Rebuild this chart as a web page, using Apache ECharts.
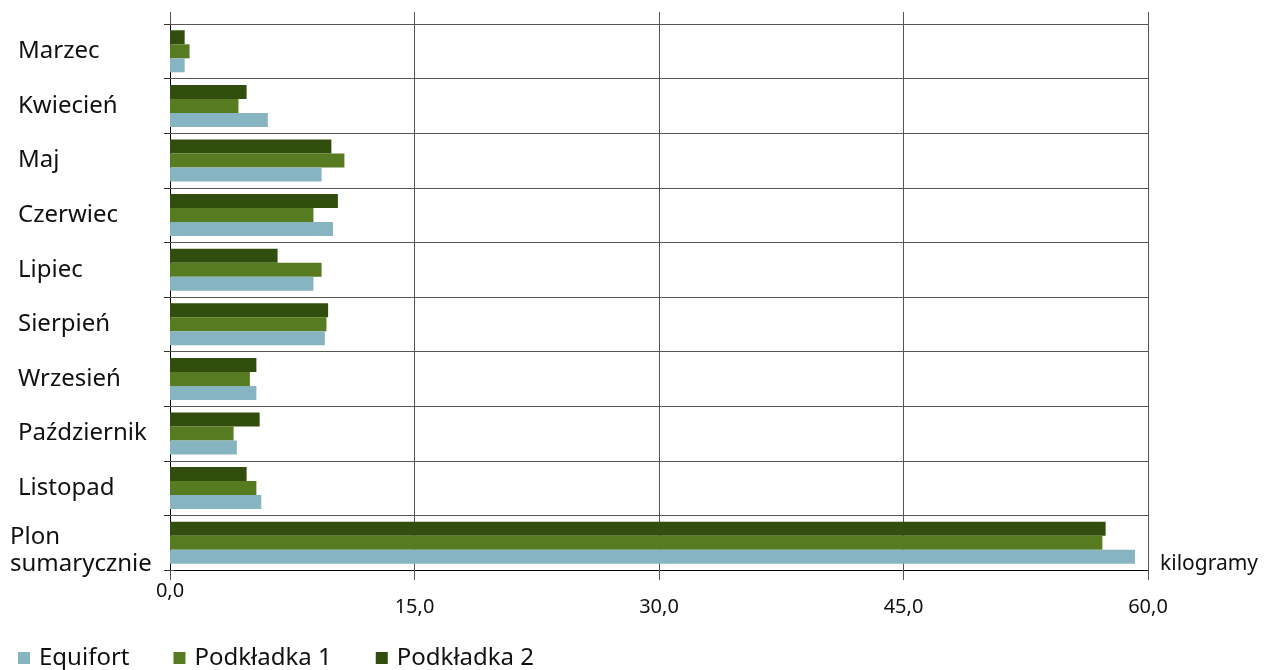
<!DOCTYPE html>
<html>
<head>
<meta charset="utf-8">
<script src="https://cdn.jsdelivr.net/npm/echarts@6/dist/echarts.min.js"></script>
<style>
html,body{margin:0;padding:0;background:#fff;}
#chart{width:1266px;height:670px;}
</style>
</head>
<body>
<div id="chart"></div>
<script>
const categories = ['Marzec','Kwiecień','Maj','Czerwiec','Lipiec','Sierpień','Wrzesień','Październik','Listopad','Plon\nsumarycznie'];
const seriesNames = ['Equifort','Podkładka 1','Podkładka 2'];
const equifort   = [0.9, 6.0, 9.3, 10.0, 8.8, 9.5, 5.3, 4.1, 5.6, 59.2];
const podkladka1 = [1.2, 4.2, 10.7, 8.8, 9.3, 9.6, 4.9, 3.9, 5.3, 57.2];
const podkladka2 = [0.9, 4.7, 9.9, 10.3, 6.6, 9.7, 5.3, 5.5, 4.7, 57.4];
const xMin = 0, xMax = 60, xInterval = 15;
const axisUnit = 'kilogramy';

const colors = ['#86B4C0', '#577B21', '#324E0F'];
const FONT = '"Noto Sans", sans-serif';
const fmt = v => v.toFixed(1).replace('.', ',');

const chart = echarts.init(document.getElementById('chart'), null, {renderer: 'canvas'});
const mk = (i, data) => ({
  name: seriesNames[i], type: 'bar', data: data,
  itemStyle: {color: colors[i]},
  barGap: '0%', barCategoryGap: '23%'
});
chart.setOption({
  animation: false,
  grid: {left: 170, right: 118, top: 24, bottom: 100, containLabel: false},
  legend: {
    data: seriesNames,
    left: 13, top: 641,
    itemWidth: 12, itemHeight: 12, itemGap: 44,
    icon: 'rect',
    textStyle: {fontFamily: FONT, fontSize: 24, color: '#111', padding: [0,0,0,4]}
  },
  xAxis: [{
    type: 'value', min: xMin, max: xMax, interval: xInterval, position: 'bottom',
    axisLine: {show: true, lineStyle: {color: '#000', width: 1}},
    axisTick: {show: true, length: 10, lineStyle: {color: '#555'}},
    splitLine: {show: true, lineStyle: {color: '#555', width: 1}},
    axisLabel: {
      margin: 11, fontFamily: FONT, fontSize: 20, color: '#111',
      formatter: v => v === 0 ? '{z|' + fmt(v) + '}' : '{o|' + fmt(v) + '}',
      rich: {z: {fontFamily: FONT, fontSize: 20, color: '#111'}, o: {fontFamily: FONT, fontSize: 20, color: '#111', padding: [16,0,0,0]}}
    },
    name: axisUnit, nameLocation: 'end', nameGap: 12,
    nameTextStyle: {fontFamily: FONT, fontSize: 21, color: '#111', verticalAlign: 'bottom', lineHeight: 12}
  }, {
    type: 'value', min: xMin, max: xMax, interval: xInterval, position: 'top',
    axisLine: {show: false},
    axisTick: {show: true, length: 12, lineStyle: {color: '#555'}},
    splitLine: {show: false},
    axisLabel: {show: false}
  }],
  yAxis: [{
    type: 'category', data: categories, inverse: true,
    axisLine: {show: true, lineStyle: {color: '#000', width: 1}},
    axisTick: {show: true, length: 6, lineStyle: {color: '#333'}},
    splitLine: {show: true, lineStyle: {color: '#555', width: 1}},
    axisLabel: {
      align: 'left', margin: 160, color: '#111', fontFamily: FONT, fontSize: 24,
      formatter: v => v.indexOf('\n') >= 0
        ? v.split('\n').map(s => '{p|' + s + '}').join('\n')
        : '{n|' + v + '}',
      rich: {
        n: {fontFamily: FONT, fontSize: 24, color: '#111', padding: [0,0,0,8]},
        p: {fontFamily: FONT, fontSize: 24, color: '#111', lineHeight: 27, padding: [16,0,0,0]}
      }
    }
  }, {
    type: 'category', data: categories, inverse: true, position: 'right',
    axisLine: {show: false},
    axisTick: {show: true, length: 4, lineStyle: {color: '#555'}},
    axisLabel: {show: false}, splitLine: {show: false}
  }],
  series: [mk(2, podkladka2), mk(1, podkladka1), mk(0, equifort)]
});
</script>
</body>
</html>
